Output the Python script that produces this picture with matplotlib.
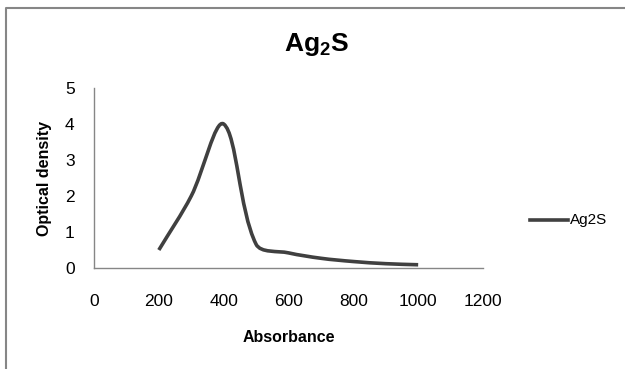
import numpy as np
import matplotlib.pyplot as plt
from matplotlib.path import Path
from matplotlib.patches import PathPatch
from matplotlib.lines import Line2D

plt.rcParams['font.family'] = ['Liberation Sans', 'DejaVu Sans']
plt.rcParams['mathtext.fontset'] = 'custom'
plt.rcParams['mathtext.bf'] = 'Liberation Sans:bold'
plt.rcParams['mathtext.rm'] = 'Liberation Sans'
narrow = ['Liberation Sans Narrow', 'Liberation Sans']

wavelength = [200, 300, 400, 500, 600, 700, 800, 900, 1000]
density = [0.5, 2.0, 4.0, 0.66, 0.42, 0.27, 0.18, 0.12, 0.09]
series_name = 'Ag2S'
x_ticks = [0, 200, 400, 600, 800, 1000, 1200]
y_ticks = [0, 1, 2, 3, 4, 5]

line_color = '#404040'
axis_color = '#868686'


def smooth_path(ax, xs, ys):
    # smoothed line: cubic Bezier through the points, neighbour tangents
    # weighted by segment lengths in screen space
    pts = ax.transData.transform(np.column_stack([xs, ys]).astype(float))
    n = len(pts)
    d = [np.hypot(*(pts[i + 1] - pts[i])) for i in range(n - 1)]
    verts = [pts[0]]
    codes = [Path.MOVETO]
    for i in range(n - 1):
        if i == 0:
            c1 = pts[0] + (pts[1] - pts[0]) / 3
        else:
            t = pts[i + 1] - pts[i - 1]
            c1 = pts[i] + t * d[i] / (d[i - 1] + d[i]) / 3
        if i == n - 2:
            c2 = pts[i + 1] - (pts[i + 1] - pts[i]) / 3
        else:
            t = pts[i + 2] - pts[i]
            c2 = pts[i + 1] - t * d[i] / (d[i] + d[i + 1]) / 3
        verts += [c1, c2, pts[i + 1]]
        codes += [Path.CURVE4] * 3
    verts = ax.transData.inverted().transform(np.array(verts))
    return Path(verts, codes)


fig = plt.figure(figsize=(6.25, 3.69), dpi=100)
ax = fig.add_axes([94 / 625, 1 - 268 / 369, (483 - 94) / 625, 180 / 369])
ax.set_xlim(0, 1200)
ax.set_ylim(0, 5)

ax.add_patch(PathPatch(smooth_path(ax, wavelength, density), facecolor='none',
                       edgecolor=line_color, lw=2.6, capstyle='butt',
                       joinstyle='round'))

ax.set_xticks(x_ticks)
ax.set_yticks(y_ticks)
ax.tick_params(length=0, colors='black')
ax.tick_params(axis='x', pad=19)
ax.tick_params(axis='y', pad=14)
for lab in ax.get_xticklabels() + ax.get_yticklabels():
    lab.set_family(narrow)
    lab.set_fontsize(12.5)
for s in ['top', 'right']:
    ax.spines[s].set_visible(False)
for s in ['left', 'bottom']:
    ax.spines[s].set_color(axis_color)
    ax.spines[s].set_linewidth(1.0)

ax.set_xlabel('Absorbance', fontsize=11.5, fontweight='bold', va='center')
ax.xaxis.set_label_coords(0.5, (268 - 337) / 180)
ax.set_ylabel('Optical density', fontsize=11.5, fontweight='bold', va='center')
ax.yaxis.set_label_coords((44 - 94) / 389, 0.5)

fig.text(316 / 625, 1 - 45 / 369, r'$\mathbf{Ag_2S}$', fontsize=19,
         ha='center', va='center')

# legend
fig.add_artist(Line2D([530 / 625, 568 / 625], [1 - 220 / 369] * 2,
                      color=line_color, lw=2.6))
fig.text(570 / 625, 1 - 220 / 369, series_name, fontsize=11, family=narrow,
         ha='left', va='center')

# chart area border (top and left edges visible)
fig.add_artist(Line2D([6 / 625, 6 / 625, 1.0], [0.0, 1 - 8 / 369, 1 - 8 / 369],
                      color=axis_color, lw=1.5))

fig.savefig('out.png', dpi=100, facecolor='white')
